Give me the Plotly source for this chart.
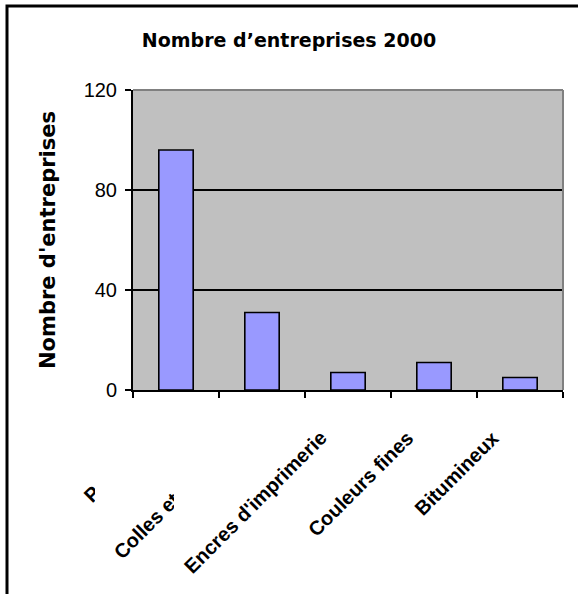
import plotly.graph_objects as go

categories = ["Peintures", "Colles et adhésifs", "Encres d'imprimerie", "Couleurs fines", "Bitumineux"]
values = [96, 31, 7, 11, 5]
y_ticks = [0, 40, 80, 120]
title_text = "Nombre d’entreprises 2000"
y_title = "Nombre d'entreprises"

W, H = 578, 594
ML, MR, MT, MB = 133, 15, 90, 204
PW = W - ML - MR
PH = H - MT - MB

def px_x(p):
    return (p - ML) / PW

def px_y(p):
    return (H - MB - p) / PH

fig = go.Figure()
fig.add_trace(go.Bar(
    x=categories, y=values,
    marker=dict(color="#9999FF", line=dict(color="black", width=1.6)),
    width=0.4,
))

label_font = dict(family="Liberation Sans", size=20, color="black")
annotations = []
# white masks emulate overlapping opaque label backgrounds of the original
masks = {1: (153, 150), 2: (160, 170)}
for i, cat in enumerate(categories):
    if i in masks:
        mw, mh = masks[i]
        annotations.append(dict(
            x=cat, xref="x", y=0, yref="paper", text=" ",
            width=mw, height=mh, bgcolor="white", borderpad=0, borderwidth=0,
            xanchor="right", yanchor="top", xshift=-14, yshift=-34,
            showarrow=False, font=dict(size=2),
        ))
    annotations.append(dict(
        x=cat, xref="x", y=0, yref="paper", text="<b>" + cat + "</b>", textangle=-45,
        xanchor="right", yanchor="top", xshift=-14, yshift=-34,
        showarrow=False, font=label_font,
    ))

shapes = [
    # outer chart frame
    dict(type="rect", xref="paper", yref="paper",
         x0=px_x(7), x1=px_x(640), y0=px_y(660), y1=px_y(6),
         line=dict(color="black", width=3), fillcolor="rgba(0,0,0,0)", layer="above"),
    # grey plot-area border (top and right)
    dict(type="line", xref="paper", yref="paper", x0=0, x1=1, y0=1, y1=1,
         line=dict(color="#808080", width=2), layer="above"),
    dict(type="line", xref="paper", yref="paper", x0=1, x1=1, y0=0, y1=1,
         line=dict(color="#808080", width=2), layer="above"),
]

fig.update_layout(
    width=W, height=H,
    margin=dict(l=ML, r=MR, t=MT, b=MB, autoexpand=False),
    paper_bgcolor="white", plot_bgcolor="#C0C0C0",
    showlegend=False,
    title=dict(text="<b>" + title_text + "</b>", x=0.5, xref="container", xanchor="center",
               y=1 - 40 / H, yref="container", yanchor="middle",
               font=dict(family="DejaVu Sans", size=19, color="black")),
    xaxis=dict(type="category", showticklabels=False, ticks="outside", tickson="boundaries",
               ticklen=6, tickwidth=1.5, tickcolor="black",
               showline=True, linecolor="black", linewidth=2, showgrid=False,
               range=[-0.5, 4.5], fixedrange=True),
    yaxis=dict(range=[0, 120], tickvals=y_ticks, ticks="outside", ticklen=6, tickwidth=1.5,
               tickcolor="black", showline=True, linecolor="black", linewidth=2,
               showgrid=True, gridcolor="black", gridwidth=1.6, zeroline=False,
               tickfont=dict(family="Liberation Sans", size=20, color="black"),
               ticklabelstandoff=4,
               title=dict(text="<b>" + y_title + "</b>", standoff=22,
                          font=dict(family="DejaVu Sans", size=21, color="black")),
               automargin=False),
    annotations=annotations,
    shapes=shapes,
)

fig.write_html("out.html")
